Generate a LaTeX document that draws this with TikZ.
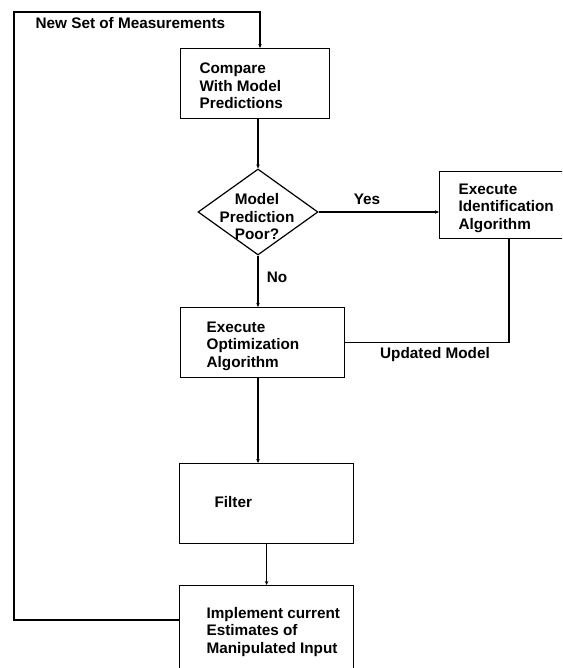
\documentclass[tikz,border=0pt]{standalone}
\usepackage{fontspec}
\setmainfont{Liberation Sans}
\usetikzlibrary{shapes.geometric,arrows.meta}
\begin{document}
\begin{tikzpicture}[x=1pt,y=-1pt,
  line width=1.2pt,
  box/.style={draw,rectangle,inner sep=0pt,anchor=north west},
  txt/.style={inner sep=0pt,font=\fontsize{15.3}{17.5}\selectfont\bfseries,align=left},
  arr/.style={-{Stealth[length=4pt,width=3.5pt]}}]
\useasboundingbox (0,0) rectangle (562,668);
\clip (0,0) rectangle (562,668);
\fill[white] (0,0) rectangle (562,668);
% boxes
\node[box,minimum width=149pt,minimum height=70pt] (cmp) at (180,48) {};
\node[draw,diamond,inner sep=0pt,minimum width=120pt,minimum height=86pt] (dia) at (258,212) {};
\node[box,minimum width=161pt,minimum height=67pt] (ident) at (439,171) {};
\node[box,minimum width=164pt,minimum height=70pt] (opt) at (180,307) {};
\node[box,minimum width=174pt,minimum height=80pt] (filt) at (179,463) {};
\node[box,minimum width=174pt,minimum height=115pt] (impl) at (179,585) {};
% texts
\node[txt,anchor=west] (tnew) at (35,23) {New Set of Measurements};
\node[txt,anchor=west] (tcmp) at (199,86) {Compare\\With Model\\Predictions};
\node[txt,align=center] (tdia) at (257,217) {Model\\Prediction\\Poor?};
\node[txt] (tyes) at (367,199) {Yes};
\node[txt,anchor=west] (tident) at (458,208) {Execute\\Identification\\Algorithm};
\node[txt] (tno) at (277,277) {No};
\node[txt,anchor=west] (topt) at (206,346) {Execute\\Optimization\\Algorithm};
\node[txt] (tupd) at (435,355) {Updated Model};
\node[txt,anchor=west] (tfilt) at (214,502) {Filter};
\node[txt,anchor=west] (timpl) at (206,632) {Implement current\\Estimates of\\Manipulated Input};
% connectors
\coordinate (c1) at (14,620);
\coordinate (c2) at (14,12);
\coordinate (c3) at (260,12);
\draw[arr] ([yshift=-35pt]impl.north west) -- (c1) -- (c2) -- (c3) -- ([xshift=80pt]cmp.north west);
\draw[arr] (dia.north |- cmp.south) -- (dia.north);
\draw[arr] (dia.east) -- (dia.east -| ident.west);
\draw[arr] (dia.south) -- (dia.south |- opt.north);
\draw ([xshift=70pt]ident.south west) |- (opt.east);
\draw[arr] (dia.south |- opt.south) -- (dia.south |- filt.north);
\draw[arr] (filt.south) -- (impl.north);
\end{tikzpicture}
\end{document}
